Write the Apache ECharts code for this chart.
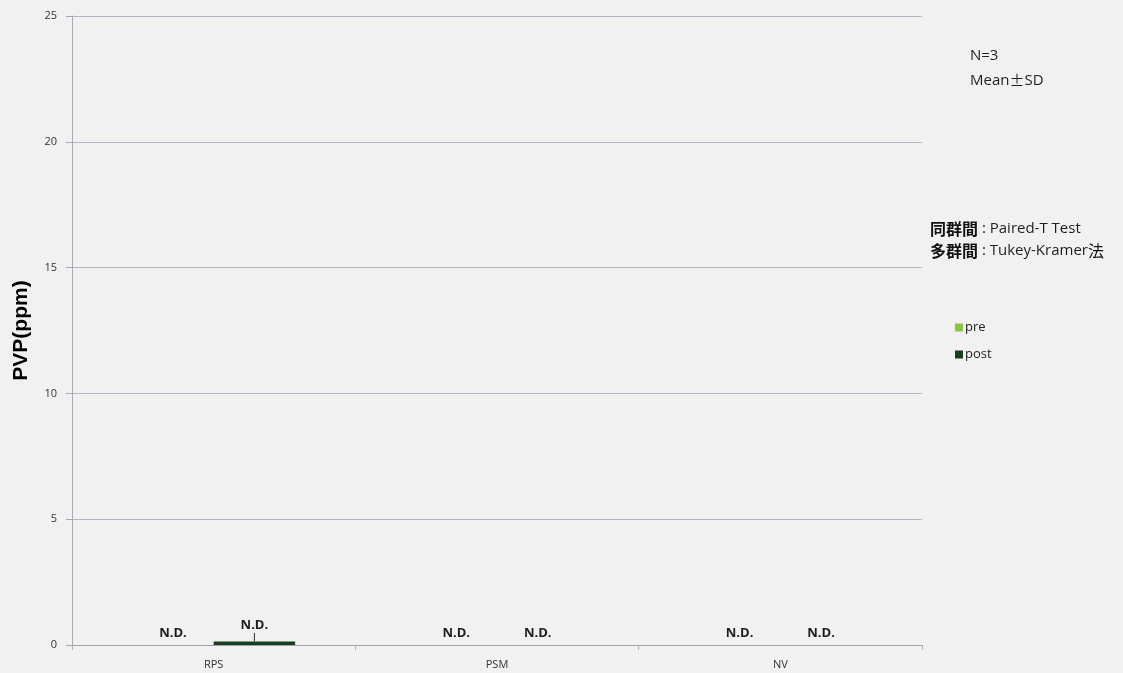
<!DOCTYPE html>
<html>
<head>
<meta charset="utf-8">
<script src="https://cdn.jsdelivr.net/npm/echarts@6/dist/echarts.min.js"></script>
<style>
  html, body { margin: 0; padding: 0; background: #f1f1f1; }
  #chart { width: 1123px; height: 673px; }
</style>
</head>
<body>
<div id="chart"></div>
<script>
// Groups and measurements (PVP, ppm)
const categories = ['RPS', 'PSM', 'NV'];
const preMean = [0, 0, 0];
const preSD = [0, 0, 0];
const postMean = [0.14, 0, 0];
const postSD = [0.34, 0, 0];
const preNote = ['N.D.', 'N.D.', 'N.D.'];
const postNote = ['N.D.', 'N.D.', 'N.D.'];
const yTicks = [0, 5, 10, 15, 20, 25];

const PRE_COLOR = '#8cc443';
const POST_COLOR = '#17401a';
const BAR_FILL = 0.575; // share of each category band taken by the bar pair

const chart = echarts.init(document.getElementById('chart'), null, { renderer: 'canvas' });

// error whisker + "N.D." note for one series; side = -1 (left bar) or +1 (right bar)
function makeOverlay(means, sds, notes, side) {
  return {
    type: 'custom',
    z: 5,
    data: categories.map((c, i) => [i, means[i], sds[i]]),
    renderItem: function (params, api) {
      const idx = api.value(0);
      const mean = api.value(1);
      const sd = api.value(2);
      const note = notes[idx];
      const band = api.size([1, 0])[0];
      const offset = side * band * BAR_FILL / 4;
      const base = api.coord([idx, mean]);
      const x = base[0] + offset;
      const top = api.coord([idx, mean + sd])[1];
      const children = [];
      if (sd > 0) {
        children.push({
          type: 'line',
          shape: { x1: x, y1: base[1], x2: x, y2: top },
          style: { stroke: '#2a2a2a', lineWidth: 1 }
        });
      }
      if (note) {
        children.push({
          type: 'text',
          x: x,
          y: top + (sd > 0 ? -1 : -5),
          style: {
            text: note,
            fill: '#1e1e1e',
            font: 'bold 13px "Open Sans", "DejaVu Sans", sans-serif',
            align: 'center',
            verticalAlign: 'bottom'
          }
        });
      }
      return { type: 'group', children: children };
    }
  };
}

chart.setOption({
  backgroundColor: '#f1f1f1',
  animation: false,
  grid: { left: 72, right: 201, top: 16, bottom: 28 },
  legend: {
    orient: 'vertical',
    left: 950,
    top: 316,
    itemWidth: 8,
    itemHeight: 8,
    itemGap: 14,
    icon: 'rect',
    textStyle: { color: '#222', fontSize: 13, fontFamily: '"Open Sans", sans-serif', padding: [0, 0, 0, -3] },
    data: ['pre', 'post']
  },
  xAxis: {
    type: 'category',
    data: categories,
    axisLine: { lineStyle: { color: '#a0a0a8', width: 1 } },
    axisTick: { show: true, length: 5, lineStyle: { color: '#b0b0b8' } },
    axisLabel: { color: '#333', fontSize: 11, fontFamily: '"Open Sans", sans-serif', margin: 14 }
  },
  yAxis: {
    type: 'value',
    min: 0,
    max: 25,
    interval: 5,
    name: 'PVP(ppm)',
    nameLocation: 'middle',
    nameGap: 40,
    nameTextStyle: { color: '#000', fontSize: 21, fontWeight: 'bold', fontFamily: '"Liberation Sans", Arial, sans-serif' },
    axisLine: { show: true, lineStyle: { color: '#a8a8b0' } },
    axisTick: { show: true, length: 6, lineStyle: { color: '#a8a8b0' } },
    axisLabel: {
      color: '#333', fontSize: 11, fontFamily: '"Open Sans", sans-serif', margin: 15,
      formatter: v => (yTicks.indexOf(v) >= 0 ? String(v) : '')
    },
    splitLine: { lineStyle: { color: '#b4b4c4', width: 1 } }
  },
  series: [
    {
      name: 'pre',
      type: 'bar',
      data: preMean,
      barGap: '0%',
      barCategoryGap: ((1 - BAR_FILL) * 100) + '%',
      itemStyle: { color: PRE_COLOR }
    },
    {
      name: 'post',
      type: 'bar',
      data: postMean,
      barGap: '0%',
      barCategoryGap: ((1 - BAR_FILL) * 100) + '%',
      itemStyle: { color: POST_COLOR }
    },
    makeOverlay(preMean, preSD, preNote, -1),
    makeOverlay(postMean, postSD, postNote, 1)
  ],
  graphic: [
    {
      type: 'text', left: 970, top: 48,
      style: { text: 'N=3', fill: '#1e1e1e', font: '15px "Open Sans", sans-serif' }
    },
    {
      type: 'text', left: 970, top: 73,
      style: {
        text: '{t|Mean}{p|±}{t|SD}',
        rich: {
          t: { fill: '#1e1e1e', font: '15px "Open Sans", sans-serif' },
          p: { fill: '#1e1e1e', font: '15px "Noto Sans CJK JP", sans-serif' }
        }
      }
    },
    {
      type: 'text', left: 930, top: 221,
      style: {
        text: '{c|同群間}{t| : Paired-T Test}\n{c|多群間}{t| : Tukey-Kramer}{c2|法}',
        rich: {
          c: { fill: '#111', font: 'bold 16px "Noto Sans CJK JP", sans-serif', lineHeight: 22 },
          c2: { fill: '#111', font: '16px "Noto Sans CJK JP", sans-serif', lineHeight: 22 },
          t: { fill: '#1e1e1e', font: '15px "Open Sans", "Noto Sans CJK JP", sans-serif', lineHeight: 22 }
        }
      }
    }
  ]
});
</script>
</body>
</html>
